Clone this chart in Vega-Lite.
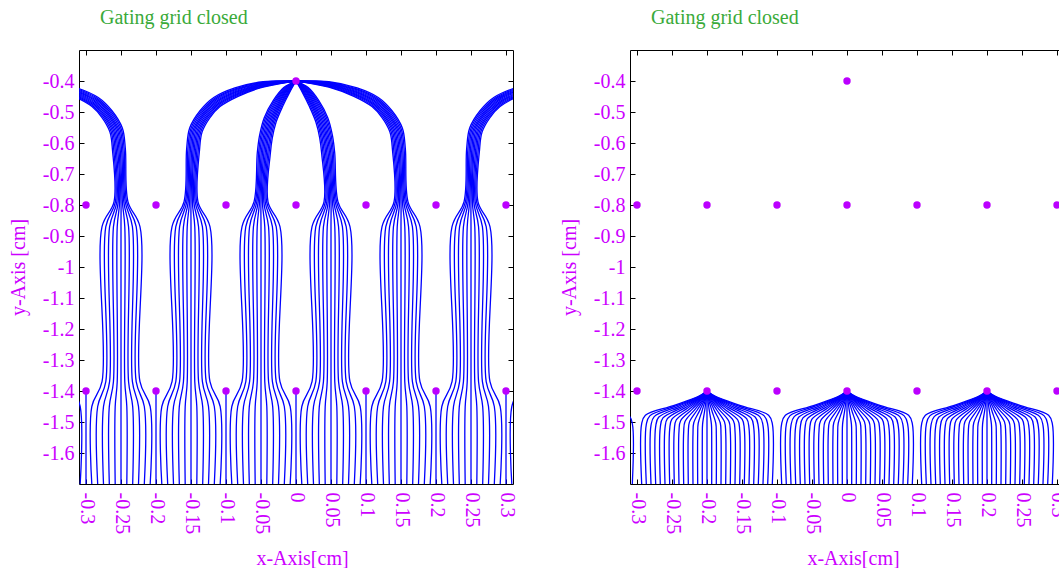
{
"$schema":"https://vega.github.io/schema/vega-lite/v6.json",
"padding":{"left":8,"top":7,"right":0,"bottom":0},
"background":"white",
"bounds":"flush",
"spacing":117,
"config":{
 "view":{"stroke":null},
 "axis":{"labelFont":"Liberation Serif","titleFont":"Liberation Serif","labelFontSize":20,"titleFontSize":20,"labelColor":"#cc00ff","titleColor":"#cc00ff","titleFontWeight":"normal","grid":false,"domainColor":"#000000","tickColor":"#000000","tickSize":-5,"labelOverlap":false,"labelFlush":false,"labelBound":false},
 "title":{"font":"Liberation Serif","fontSize":20,"fontWeight":"normal","color":"#3aaa3a","anchor":"start","frame":"group","baseline":"alphabetic","offset":22,"dx":21}
},
"datasets":{
"w":[{"x":0,"y":-0.4},{"x":-0.3,"y":-0.8},{"x":-0.2,"y":-0.8},{"x":-0.1,"y":-0.8},{"x":0,"y":-0.8},{"x":0.1,"y":-0.8},{"x":0.2,"y":-0.8},{"x":0.3,"y":-0.8},{"x":-0.3,"y":-1.4},{"x":-0.2,"y":-1.4},{"x":-0.1,"y":-1.4},{"x":0,"y":-1.4},{"x":0.1,"y":-1.4},{"x":0.2,"y":-1.4},{"x":0.3,"y":-1.4}],
"a":[
{"l":1,"x":-0.2917,"y":-1.7},{"l":1,"x":-0.2917,"y":-1.45},{"l":1,"x":-0.2771,"y":-1.37},{"l":1,"x":-0.2771,"y":-0.87},{"l":1,"x":-0.26,"y":-0.79},{"l":1,"x":-0.2622,"y":-0.6223},{"l":1,"x":-0.2659,"y":-0.5642},{"l":1,"x":-0.2771,"y":-0.518},{"l":1,"x":-0.2915,"y":-0.4826},{"l":1,"x":-0.3173,"y":-0.4496},{"l":1,"x":-0.353,"y":-0.4196},{"l":1,"x":-0.4,"y":-0.4},
{"l":2,"x":-0.2833,"y":-1.7},{"l":2,"x":-0.2833,"y":-1.45},{"l":2,"x":-0.2717,"y":-1.37},{"l":2,"x":-0.2717,"y":-0.87},{"l":2,"x":-0.258,"y":-0.79},{"l":2,"x":-0.2604,"y":-0.6218},{"l":2,"x":-0.2641,"y":-0.563},{"l":2,"x":-0.2756,"y":-0.5158},{"l":2,"x":-0.2906,"y":-0.4796},{"l":2,"x":-0.3168,"y":-0.4468},{"l":2,"x":-0.353,"y":-0.4178},{"l":2,"x":-0.4,"y":-0.4},
{"l":3,"x":-0.275,"y":-1.7},{"l":3,"x":-0.275,"y":-1.45},{"l":3,"x":-0.2663,"y":-1.37},{"l":3,"x":-0.2663,"y":-0.87},{"l":3,"x":-0.256,"y":-0.79},{"l":3,"x":-0.2585,"y":-0.6214},{"l":3,"x":-0.2623,"y":-0.5617},{"l":3,"x":-0.2742,"y":-0.5136},{"l":3,"x":-0.2897,"y":-0.4767},{"l":3,"x":-0.3164,"y":-0.4441},{"l":3,"x":-0.353,"y":-0.4161},{"l":3,"x":-0.4,"y":-0.4},
{"l":4,"x":-0.2667,"y":-1.7},{"l":4,"x":-0.2667,"y":-1.45},{"l":4,"x":-0.2608,"y":-1.37},{"l":4,"x":-0.2608,"y":-0.87},{"l":4,"x":-0.254,"y":-0.79},{"l":4,"x":-0.2567,"y":-0.6209},{"l":4,"x":-0.2605,"y":-0.5605},{"l":4,"x":-0.2728,"y":-0.5114},{"l":4,"x":-0.2888,"y":-0.4738},{"l":4,"x":-0.3159,"y":-0.4414},{"l":4,"x":-0.353,"y":-0.4144},{"l":4,"x":-0.4,"y":-0.4},
{"l":5,"x":-0.2583,"y":-1.7},{"l":5,"x":-0.2583,"y":-1.45},{"l":5,"x":-0.2554,"y":-1.37},{"l":5,"x":-0.2554,"y":-0.87},{"l":5,"x":-0.252,"y":-0.79},{"l":5,"x":-0.2548,"y":-0.6205},{"l":5,"x":-0.2588,"y":-0.5592},{"l":5,"x":-0.2714,"y":-0.5092},{"l":5,"x":-0.2879,"y":-0.4709},{"l":5,"x":-0.3155,"y":-0.4387},{"l":5,"x":-0.353,"y":-0.4127},{"l":5,"x":-0.4,"y":-0.4},
{"l":6,"x":-0.25,"y":-1.7},{"l":6,"x":-0.25,"y":-0.87},{"l":6,"x":-0.25,"y":-0.79},{"l":6,"x":-0.253,"y":-0.62},{"l":6,"x":-0.257,"y":-0.558},{"l":6,"x":-0.27,"y":-0.507},{"l":6,"x":-0.287,"y":-0.468},{"l":6,"x":-0.315,"y":-0.436},{"l":6,"x":-0.353,"y":-0.411},{"l":6,"x":-0.4,"y":-0.4},
{"l":7,"x":-0.2417,"y":-1.7},{"l":7,"x":-0.2417,"y":-1.45},{"l":7,"x":-0.2446,"y":-1.37},{"l":7,"x":-0.2446,"y":-0.87},{"l":7,"x":-0.248,"y":-0.79},{"l":7,"x":-0.2512,"y":-0.6195},{"l":7,"x":-0.2552,"y":-0.5568},{"l":7,"x":-0.2686,"y":-0.5048},{"l":7,"x":-0.2861,"y":-0.4651},{"l":7,"x":-0.3145,"y":-0.4333},{"l":7,"x":-0.353,"y":-0.4093},{"l":7,"x":-0.4,"y":-0.4},
{"l":8,"x":-0.2333,"y":-1.7},{"l":8,"x":-0.2333,"y":-1.45},{"l":8,"x":-0.2392,"y":-1.37},{"l":8,"x":-0.2392,"y":-0.87},{"l":8,"x":-0.246,"y":-0.79},{"l":8,"x":-0.2493,"y":-0.6191},{"l":8,"x":-0.2535,"y":-0.5555},{"l":8,"x":-0.2672,"y":-0.5026},{"l":8,"x":-0.2852,"y":-0.4622},{"l":8,"x":-0.3141,"y":-0.4306},{"l":8,"x":-0.353,"y":-0.4076},{"l":8,"x":-0.4,"y":-0.4},
{"l":9,"x":-0.225,"y":-1.7},{"l":9,"x":-0.225,"y":-1.45},{"l":9,"x":-0.2337,"y":-1.37},{"l":9,"x":-0.2337,"y":-0.87},{"l":9,"x":-0.244,"y":-0.79},{"l":9,"x":-0.2475,"y":-0.6186},{"l":9,"x":-0.2517,"y":-0.5543},{"l":9,"x":-0.2658,"y":-0.5004},{"l":9,"x":-0.2843,"y":-0.4593},{"l":9,"x":-0.3136,"y":-0.4279},{"l":9,"x":-0.353,"y":-0.4059},{"l":9,"x":-0.4,"y":-0.4},
{"l":10,"x":-0.2167,"y":-1.7},{"l":10,"x":-0.2167,"y":-1.45},{"l":10,"x":-0.2283,"y":-1.37},{"l":10,"x":-0.2283,"y":-0.87},{"l":10,"x":-0.242,"y":-0.79},{"l":10,"x":-0.2456,"y":-0.6182},{"l":10,"x":-0.2499,"y":-0.553},{"l":10,"x":-0.2644,"y":-0.4982},{"l":10,"x":-0.2834,"y":-0.4564},{"l":10,"x":-0.3132,"y":-0.4252},{"l":10,"x":-0.353,"y":-0.4042},{"l":10,"x":-0.4,"y":-0.4},
{"l":11,"x":-0.2083,"y":-1.7},{"l":11,"x":-0.2083,"y":-1.45},{"l":11,"x":-0.2229,"y":-1.37},{"l":11,"x":-0.2229,"y":-0.87},{"l":11,"x":-0.24,"y":-0.79},{"l":11,"x":-0.2438,"y":-0.6177},{"l":11,"x":-0.2481,"y":-0.5518},{"l":11,"x":-0.2629,"y":-0.496},{"l":11,"x":-0.2825,"y":-0.4534},{"l":11,"x":-0.3127,"y":-0.4224},{"l":11,"x":-0.353,"y":-0.4024},{"l":11,"x":-0.4,"y":-0.4},
{"l":12,"x":-0.1917,"y":-1.7},{"l":12,"x":-0.1917,"y":-1.45},{"l":12,"x":-0.1771,"y":-1.37},{"l":12,"x":-0.1771,"y":-0.87},{"l":12,"x":-0.16,"y":-0.79},{"l":12,"x":-0.1562,"y":-0.6177},{"l":12,"x":-0.1519,"y":-0.5518},{"l":12,"x":-0.1371,"y":-0.496},{"l":12,"x":-0.1175,"y":-0.4534},{"l":12,"x":-0.0873,"y":-0.4224},{"l":12,"x":-0.047,"y":-0.4024},{"l":12,"x":0,"y":-0.4},
{"l":13,"x":-0.1833,"y":-1.7},{"l":13,"x":-0.1833,"y":-1.45},{"l":13,"x":-0.1717,"y":-1.37},{"l":13,"x":-0.1717,"y":-0.87},{"l":13,"x":-0.158,"y":-0.79},{"l":13,"x":-0.1544,"y":-0.6182},{"l":13,"x":-0.1501,"y":-0.553},{"l":13,"x":-0.1356,"y":-0.4982},{"l":13,"x":-0.1166,"y":-0.4564},{"l":13,"x":-0.0868,"y":-0.4252},{"l":13,"x":-0.047,"y":-0.4042},{"l":13,"x":0,"y":-0.4},
{"l":14,"x":-0.175,"y":-1.7},{"l":14,"x":-0.175,"y":-1.45},{"l":14,"x":-0.1663,"y":-1.37},{"l":14,"x":-0.1663,"y":-0.87},{"l":14,"x":-0.156,"y":-0.79},{"l":14,"x":-0.1525,"y":-0.6186},{"l":14,"x":-0.1483,"y":-0.5543},{"l":14,"x":-0.1342,"y":-0.5004},{"l":14,"x":-0.1157,"y":-0.4593},{"l":14,"x":-0.0864,"y":-0.4279},{"l":14,"x":-0.047,"y":-0.4059},{"l":14,"x":0,"y":-0.4},
{"l":15,"x":-0.1667,"y":-1.7},{"l":15,"x":-0.1667,"y":-1.45},{"l":15,"x":-0.1608,"y":-1.37},{"l":15,"x":-0.1608,"y":-0.87},{"l":15,"x":-0.154,"y":-0.79},{"l":15,"x":-0.1507,"y":-0.6191},{"l":15,"x":-0.1465,"y":-0.5555},{"l":15,"x":-0.1328,"y":-0.5026},{"l":15,"x":-0.1148,"y":-0.4622},{"l":15,"x":-0.0859,"y":-0.4306},{"l":15,"x":-0.047,"y":-0.4076},{"l":15,"x":0,"y":-0.4},
{"l":16,"x":-0.1583,"y":-1.7},{"l":16,"x":-0.1583,"y":-1.45},{"l":16,"x":-0.1554,"y":-1.37},{"l":16,"x":-0.1554,"y":-0.87},{"l":16,"x":-0.152,"y":-0.79},{"l":16,"x":-0.1488,"y":-0.6195},{"l":16,"x":-0.1448,"y":-0.5568},{"l":16,"x":-0.1314,"y":-0.5048},{"l":16,"x":-0.1139,"y":-0.4651},{"l":16,"x":-0.0855,"y":-0.4333},{"l":16,"x":-0.047,"y":-0.4093},{"l":16,"x":0,"y":-0.4},
{"l":17,"x":-0.15,"y":-1.7},{"l":17,"x":-0.15,"y":-0.87},{"l":17,"x":-0.15,"y":-0.79},{"l":17,"x":-0.147,"y":-0.62},{"l":17,"x":-0.143,"y":-0.558},{"l":17,"x":-0.13,"y":-0.507},{"l":17,"x":-0.113,"y":-0.468},{"l":17,"x":-0.085,"y":-0.436},{"l":17,"x":-0.047,"y":-0.411},{"l":17,"x":0,"y":-0.4},
{"l":18,"x":-0.1417,"y":-1.7},{"l":18,"x":-0.1417,"y":-1.45},{"l":18,"x":-0.1446,"y":-1.37},{"l":18,"x":-0.1446,"y":-0.87},{"l":18,"x":-0.148,"y":-0.79},{"l":18,"x":-0.1452,"y":-0.6205},{"l":18,"x":-0.1412,"y":-0.5592},{"l":18,"x":-0.1286,"y":-0.5092},{"l":18,"x":-0.1121,"y":-0.4709},{"l":18,"x":-0.0845,"y":-0.4387},{"l":18,"x":-0.047,"y":-0.4127},{"l":18,"x":0,"y":-0.4},
{"l":19,"x":-0.1333,"y":-1.7},{"l":19,"x":-0.1333,"y":-1.45},{"l":19,"x":-0.1392,"y":-1.37},{"l":19,"x":-0.1392,"y":-0.87},{"l":19,"x":-0.146,"y":-0.79},{"l":19,"x":-0.1433,"y":-0.6209},{"l":19,"x":-0.1395,"y":-0.5605},{"l":19,"x":-0.1272,"y":-0.5114},{"l":19,"x":-0.1112,"y":-0.4738},{"l":19,"x":-0.0841,"y":-0.4414},{"l":19,"x":-0.047,"y":-0.4144},{"l":19,"x":0,"y":-0.4},
{"l":20,"x":-0.125,"y":-1.7},{"l":20,"x":-0.125,"y":-1.45},{"l":20,"x":-0.1337,"y":-1.37},{"l":20,"x":-0.1337,"y":-0.87},{"l":20,"x":-0.144,"y":-0.79},{"l":20,"x":-0.1415,"y":-0.6214},{"l":20,"x":-0.1377,"y":-0.5617},{"l":20,"x":-0.1258,"y":-0.5136},{"l":20,"x":-0.1103,"y":-0.4767},{"l":20,"x":-0.0836,"y":-0.4441},{"l":20,"x":-0.047,"y":-0.4161},{"l":20,"x":0,"y":-0.4},
{"l":21,"x":-0.1167,"y":-1.7},{"l":21,"x":-0.1167,"y":-1.45},{"l":21,"x":-0.1283,"y":-1.37},{"l":21,"x":-0.1283,"y":-0.87},{"l":21,"x":-0.142,"y":-0.79},{"l":21,"x":-0.1396,"y":-0.6218},{"l":21,"x":-0.1359,"y":-0.563},{"l":21,"x":-0.1244,"y":-0.5158},{"l":21,"x":-0.1094,"y":-0.4796},{"l":21,"x":-0.0832,"y":-0.4468},{"l":21,"x":-0.047,"y":-0.4178},{"l":21,"x":0,"y":-0.4},
{"l":22,"x":-0.1083,"y":-1.7},{"l":22,"x":-0.1083,"y":-1.45},{"l":22,"x":-0.1229,"y":-1.37},{"l":22,"x":-0.1229,"y":-0.87},{"l":22,"x":-0.14,"y":-0.79},{"l":22,"x":-0.1378,"y":-0.6223},{"l":22,"x":-0.1341,"y":-0.5642},{"l":22,"x":-0.1229,"y":-0.518},{"l":22,"x":-0.1085,"y":-0.4826},{"l":22,"x":-0.0827,"y":-0.4496},{"l":22,"x":-0.047,"y":-0.4196},{"l":22,"x":0,"y":-0.4},
{"l":23,"x":-0.0917,"y":-1.7},{"l":23,"x":-0.0917,"y":-1.45},{"l":23,"x":-0.0771,"y":-1.37},{"l":23,"x":-0.0771,"y":-0.87},{"l":23,"x":-0.06,"y":-0.79},{"l":23,"x":-0.0553,"y":-0.6314},{"l":23,"x":-0.0521,"y":-0.5761},{"l":23,"x":-0.0455,"y":-0.5191},{"l":23,"x":-0.0326,"y":-0.4635},{"l":23,"x":-0.0175,"y":-0.4213},{"l":23,"x":0,"y":-0.4},
{"l":24,"x":-0.0833,"y":-1.7},{"l":24,"x":-0.0833,"y":-1.45},{"l":24,"x":-0.0717,"y":-1.37},{"l":24,"x":-0.0717,"y":-0.87},{"l":24,"x":-0.058,"y":-0.79},{"l":24,"x":-0.0534,"y":-0.6318},{"l":24,"x":-0.0503,"y":-0.5769},{"l":24,"x":-0.0438,"y":-0.5205},{"l":24,"x":-0.0312,"y":-0.4652},{"l":24,"x":-0.0167,"y":-0.4228},{"l":24,"x":0,"y":-0.4},
{"l":25,"x":-0.075,"y":-1.7},{"l":25,"x":-0.075,"y":-1.45},{"l":25,"x":-0.0663,"y":-1.37},{"l":25,"x":-0.0663,"y":-0.87},{"l":25,"x":-0.056,"y":-0.79},{"l":25,"x":-0.0516,"y":-0.6321},{"l":25,"x":-0.0485,"y":-0.5777},{"l":25,"x":-0.0421,"y":-0.5219},{"l":25,"x":-0.0298,"y":-0.4669},{"l":25,"x":-0.0158,"y":-0.4244},{"l":25,"x":0,"y":-0.4},
{"l":26,"x":-0.0667,"y":-1.7},{"l":26,"x":-0.0667,"y":-1.45},{"l":26,"x":-0.0608,"y":-1.37},{"l":26,"x":-0.0608,"y":-0.87},{"l":26,"x":-0.054,"y":-0.79},{"l":26,"x":-0.0497,"y":-0.6324},{"l":26,"x":-0.0466,"y":-0.5784},{"l":26,"x":-0.0404,"y":-0.5232},{"l":26,"x":-0.0285,"y":-0.4686},{"l":26,"x":-0.015,"y":-0.4259},{"l":26,"x":0,"y":-0.4},
{"l":27,"x":-0.0583,"y":-1.7},{"l":27,"x":-0.0583,"y":-1.45},{"l":27,"x":-0.0554,"y":-1.37},{"l":27,"x":-0.0554,"y":-0.87},{"l":27,"x":-0.052,"y":-0.79},{"l":27,"x":-0.0479,"y":-0.6327},{"l":27,"x":-0.0448,"y":-0.5792},{"l":27,"x":-0.0387,"y":-0.5246},{"l":27,"x":-0.0271,"y":-0.4703},{"l":27,"x":-0.0141,"y":-0.4275},{"l":27,"x":0,"y":-0.4},
{"l":28,"x":-0.05,"y":-1.7},{"l":28,"x":-0.05,"y":-0.87},{"l":28,"x":-0.05,"y":-0.79},{"l":28,"x":-0.046,"y":-0.633},{"l":28,"x":-0.043,"y":-0.58},{"l":28,"x":-0.037,"y":-0.526},{"l":28,"x":-0.0257,"y":-0.472},{"l":28,"x":-0.0133,"y":-0.429},{"l":28,"x":0,"y":-0.4},
{"l":29,"x":-0.0417,"y":-1.7},{"l":29,"x":-0.0417,"y":-1.45},{"l":29,"x":-0.0446,"y":-1.37},{"l":29,"x":-0.0446,"y":-0.87},{"l":29,"x":-0.048,"y":-0.79},{"l":29,"x":-0.0441,"y":-0.6333},{"l":29,"x":-0.0412,"y":-0.5808},{"l":29,"x":-0.0353,"y":-0.5274},{"l":29,"x":-0.0243,"y":-0.4737},{"l":29,"x":-0.0125,"y":-0.4305},{"l":29,"x":0,"y":-0.4},
{"l":30,"x":-0.0333,"y":-1.7},{"l":30,"x":-0.0333,"y":-1.45},{"l":30,"x":-0.0392,"y":-1.37},{"l":30,"x":-0.0392,"y":-0.87},{"l":30,"x":-0.046,"y":-0.79},{"l":30,"x":-0.0423,"y":-0.6336},{"l":30,"x":-0.0394,"y":-0.5816},{"l":30,"x":-0.0336,"y":-0.5288},{"l":30,"x":-0.0229,"y":-0.4754},{"l":30,"x":-0.0116,"y":-0.4321},{"l":30,"x":0,"y":-0.4},
{"l":31,"x":-0.025,"y":-1.7},{"l":31,"x":-0.025,"y":-1.45},{"l":31,"x":-0.0337,"y":-1.37},{"l":31,"x":-0.0337,"y":-0.87},{"l":31,"x":-0.044,"y":-0.79},{"l":31,"x":-0.0404,"y":-0.6339},{"l":31,"x":-0.0375,"y":-0.5823},{"l":31,"x":-0.0319,"y":-0.5301},{"l":31,"x":-0.0216,"y":-0.4771},{"l":31,"x":-0.0108,"y":-0.4336},{"l":31,"x":0,"y":-0.4},
{"l":32,"x":-0.0167,"y":-1.7},{"l":32,"x":-0.0167,"y":-1.45},{"l":32,"x":-0.0283,"y":-1.37},{"l":32,"x":-0.0283,"y":-0.87},{"l":32,"x":-0.042,"y":-0.79},{"l":32,"x":-0.0386,"y":-0.6342},{"l":32,"x":-0.0357,"y":-0.5831},{"l":32,"x":-0.0302,"y":-0.5315},{"l":32,"x":-0.0202,"y":-0.4788},{"l":32,"x":-0.0099,"y":-0.4352},{"l":32,"x":0,"y":-0.4},
{"l":33,"x":-0.0083,"y":-1.7},{"l":33,"x":-0.0083,"y":-1.45},{"l":33,"x":-0.0229,"y":-1.37},{"l":33,"x":-0.0229,"y":-0.87},{"l":33,"x":-0.04,"y":-0.79},{"l":33,"x":-0.0367,"y":-0.6346},{"l":33,"x":-0.0339,"y":-0.5839},{"l":33,"x":-0.0285,"y":-0.5329},{"l":33,"x":-0.0188,"y":-0.4806},{"l":33,"x":-0.0091,"y":-0.4367},{"l":33,"x":0,"y":-0.4},
{"l":34,"x":0.0083,"y":-1.7},{"l":34,"x":0.0083,"y":-1.45},{"l":34,"x":0.0229,"y":-1.37},{"l":34,"x":0.0229,"y":-0.87},{"l":34,"x":0.04,"y":-0.79},{"l":34,"x":0.0367,"y":-0.6346},{"l":34,"x":0.0339,"y":-0.5839},{"l":34,"x":0.0285,"y":-0.5329},{"l":34,"x":0.0188,"y":-0.4806},{"l":34,"x":0.0091,"y":-0.4367},{"l":34,"x":0,"y":-0.4},
{"l":35,"x":0.0167,"y":-1.7},{"l":35,"x":0.0167,"y":-1.45},{"l":35,"x":0.0283,"y":-1.37},{"l":35,"x":0.0283,"y":-0.87},{"l":35,"x":0.042,"y":-0.79},{"l":35,"x":0.0386,"y":-0.6342},{"l":35,"x":0.0357,"y":-0.5831},{"l":35,"x":0.0302,"y":-0.5315},{"l":35,"x":0.0202,"y":-0.4788},{"l":35,"x":0.0099,"y":-0.4352},{"l":35,"x":0,"y":-0.4},
{"l":36,"x":0.025,"y":-1.7},{"l":36,"x":0.025,"y":-1.45},{"l":36,"x":0.0337,"y":-1.37},{"l":36,"x":0.0337,"y":-0.87},{"l":36,"x":0.044,"y":-0.79},{"l":36,"x":0.0404,"y":-0.6339},{"l":36,"x":0.0375,"y":-0.5823},{"l":36,"x":0.0319,"y":-0.5301},{"l":36,"x":0.0216,"y":-0.4771},{"l":36,"x":0.0108,"y":-0.4336},{"l":36,"x":0,"y":-0.4},
{"l":37,"x":0.0333,"y":-1.7},{"l":37,"x":0.0333,"y":-1.45},{"l":37,"x":0.0392,"y":-1.37},{"l":37,"x":0.0392,"y":-0.87},{"l":37,"x":0.046,"y":-0.79},{"l":37,"x":0.0423,"y":-0.6336},{"l":37,"x":0.0394,"y":-0.5816},{"l":37,"x":0.0336,"y":-0.5288},{"l":37,"x":0.0229,"y":-0.4754},{"l":37,"x":0.0116,"y":-0.4321},{"l":37,"x":0,"y":-0.4},
{"l":38,"x":0.0417,"y":-1.7},{"l":38,"x":0.0417,"y":-1.45},{"l":38,"x":0.0446,"y":-1.37},{"l":38,"x":0.0446,"y":-0.87},{"l":38,"x":0.048,"y":-0.79},{"l":38,"x":0.0441,"y":-0.6333},{"l":38,"x":0.0412,"y":-0.5808},{"l":38,"x":0.0353,"y":-0.5274},{"l":38,"x":0.0243,"y":-0.4737},{"l":38,"x":0.0125,"y":-0.4305},{"l":38,"x":0,"y":-0.4},
{"l":39,"x":0.05,"y":-1.7},{"l":39,"x":0.05,"y":-0.87},{"l":39,"x":0.05,"y":-0.79},{"l":39,"x":0.046,"y":-0.633},{"l":39,"x":0.043,"y":-0.58},{"l":39,"x":0.037,"y":-0.526},{"l":39,"x":0.0257,"y":-0.472},{"l":39,"x":0.0133,"y":-0.429},{"l":39,"x":0,"y":-0.4},
{"l":40,"x":0.0583,"y":-1.7},{"l":40,"x":0.0583,"y":-1.45},{"l":40,"x":0.0554,"y":-1.37},{"l":40,"x":0.0554,"y":-0.87},{"l":40,"x":0.052,"y":-0.79},{"l":40,"x":0.0479,"y":-0.6327},{"l":40,"x":0.0448,"y":-0.5792},{"l":40,"x":0.0387,"y":-0.5246},{"l":40,"x":0.0271,"y":-0.4703},{"l":40,"x":0.0141,"y":-0.4275},{"l":40,"x":0,"y":-0.4},
{"l":41,"x":0.0667,"y":-1.7},{"l":41,"x":0.0667,"y":-1.45},{"l":41,"x":0.0608,"y":-1.37},{"l":41,"x":0.0608,"y":-0.87},{"l":41,"x":0.054,"y":-0.79},{"l":41,"x":0.0497,"y":-0.6324},{"l":41,"x":0.0466,"y":-0.5784},{"l":41,"x":0.0404,"y":-0.5232},{"l":41,"x":0.0285,"y":-0.4686},{"l":41,"x":0.015,"y":-0.4259},{"l":41,"x":0,"y":-0.4},
{"l":42,"x":0.075,"y":-1.7},{"l":42,"x":0.075,"y":-1.45},{"l":42,"x":0.0663,"y":-1.37},{"l":42,"x":0.0663,"y":-0.87},{"l":42,"x":0.056,"y":-0.79},{"l":42,"x":0.0516,"y":-0.6321},{"l":42,"x":0.0485,"y":-0.5777},{"l":42,"x":0.0421,"y":-0.5219},{"l":42,"x":0.0298,"y":-0.4669},{"l":42,"x":0.0158,"y":-0.4244},{"l":42,"x":0,"y":-0.4},
{"l":43,"x":0.0833,"y":-1.7},{"l":43,"x":0.0833,"y":-1.45},{"l":43,"x":0.0717,"y":-1.37},{"l":43,"x":0.0717,"y":-0.87},{"l":43,"x":0.058,"y":-0.79},{"l":43,"x":0.0534,"y":-0.6318},{"l":43,"x":0.0503,"y":-0.5769},{"l":43,"x":0.0438,"y":-0.5205},{"l":43,"x":0.0312,"y":-0.4652},{"l":43,"x":0.0167,"y":-0.4228},{"l":43,"x":0,"y":-0.4},
{"l":44,"x":0.0917,"y":-1.7},{"l":44,"x":0.0917,"y":-1.45},{"l":44,"x":0.0771,"y":-1.37},{"l":44,"x":0.0771,"y":-0.87},{"l":44,"x":0.06,"y":-0.79},{"l":44,"x":0.0553,"y":-0.6314},{"l":44,"x":0.0521,"y":-0.5761},{"l":44,"x":0.0455,"y":-0.5191},{"l":44,"x":0.0326,"y":-0.4635},{"l":44,"x":0.0175,"y":-0.4213},{"l":44,"x":0,"y":-0.4},
{"l":45,"x":0.1083,"y":-1.7},{"l":45,"x":0.1083,"y":-1.45},{"l":45,"x":0.1229,"y":-1.37},{"l":45,"x":0.1229,"y":-0.87},{"l":45,"x":0.14,"y":-0.79},{"l":45,"x":0.1378,"y":-0.6223},{"l":45,"x":0.1341,"y":-0.5642},{"l":45,"x":0.1229,"y":-0.518},{"l":45,"x":0.1085,"y":-0.4826},{"l":45,"x":0.0827,"y":-0.4496},{"l":45,"x":0.047,"y":-0.4196},{"l":45,"x":0,"y":-0.4},
{"l":46,"x":0.1167,"y":-1.7},{"l":46,"x":0.1167,"y":-1.45},{"l":46,"x":0.1283,"y":-1.37},{"l":46,"x":0.1283,"y":-0.87},{"l":46,"x":0.142,"y":-0.79},{"l":46,"x":0.1396,"y":-0.6218},{"l":46,"x":0.1359,"y":-0.563},{"l":46,"x":0.1244,"y":-0.5158},{"l":46,"x":0.1094,"y":-0.4796},{"l":46,"x":0.0832,"y":-0.4468},{"l":46,"x":0.047,"y":-0.4178},{"l":46,"x":0,"y":-0.4},
{"l":47,"x":0.125,"y":-1.7},{"l":47,"x":0.125,"y":-1.45},{"l":47,"x":0.1337,"y":-1.37},{"l":47,"x":0.1337,"y":-0.87},{"l":47,"x":0.144,"y":-0.79},{"l":47,"x":0.1415,"y":-0.6214},{"l":47,"x":0.1377,"y":-0.5617},{"l":47,"x":0.1258,"y":-0.5136},{"l":47,"x":0.1103,"y":-0.4767},{"l":47,"x":0.0836,"y":-0.4441},{"l":47,"x":0.047,"y":-0.4161},{"l":47,"x":0,"y":-0.4},
{"l":48,"x":0.1333,"y":-1.7},{"l":48,"x":0.1333,"y":-1.45},{"l":48,"x":0.1392,"y":-1.37},{"l":48,"x":0.1392,"y":-0.87},{"l":48,"x":0.146,"y":-0.79},{"l":48,"x":0.1433,"y":-0.6209},{"l":48,"x":0.1395,"y":-0.5605},{"l":48,"x":0.1272,"y":-0.5114},{"l":48,"x":0.1112,"y":-0.4738},{"l":48,"x":0.0841,"y":-0.4414},{"l":48,"x":0.047,"y":-0.4144},{"l":48,"x":0,"y":-0.4},
{"l":49,"x":0.1417,"y":-1.7},{"l":49,"x":0.1417,"y":-1.45},{"l":49,"x":0.1446,"y":-1.37},{"l":49,"x":0.1446,"y":-0.87},{"l":49,"x":0.148,"y":-0.79},{"l":49,"x":0.1452,"y":-0.6205},{"l":49,"x":0.1412,"y":-0.5592},{"l":49,"x":0.1286,"y":-0.5092},{"l":49,"x":0.1121,"y":-0.4709},{"l":49,"x":0.0845,"y":-0.4387},{"l":49,"x":0.047,"y":-0.4127},{"l":49,"x":0,"y":-0.4},
{"l":50,"x":0.15,"y":-1.7},{"l":50,"x":0.15,"y":-0.87},{"l":50,"x":0.15,"y":-0.79},{"l":50,"x":0.147,"y":-0.62},{"l":50,"x":0.143,"y":-0.558},{"l":50,"x":0.13,"y":-0.507},{"l":50,"x":0.113,"y":-0.468},{"l":50,"x":0.085,"y":-0.436},{"l":50,"x":0.047,"y":-0.411},{"l":50,"x":0,"y":-0.4},
{"l":51,"x":0.1583,"y":-1.7},{"l":51,"x":0.1583,"y":-1.45},{"l":51,"x":0.1554,"y":-1.37},{"l":51,"x":0.1554,"y":-0.87},{"l":51,"x":0.152,"y":-0.79},{"l":51,"x":0.1488,"y":-0.6195},{"l":51,"x":0.1448,"y":-0.5568},{"l":51,"x":0.1314,"y":-0.5048},{"l":51,"x":0.1139,"y":-0.4651},{"l":51,"x":0.0855,"y":-0.4333},{"l":51,"x":0.047,"y":-0.4093},{"l":51,"x":0,"y":-0.4},
{"l":52,"x":0.1667,"y":-1.7},{"l":52,"x":0.1667,"y":-1.45},{"l":52,"x":0.1608,"y":-1.37},{"l":52,"x":0.1608,"y":-0.87},{"l":52,"x":0.154,"y":-0.79},{"l":52,"x":0.1507,"y":-0.6191},{"l":52,"x":0.1465,"y":-0.5555},{"l":52,"x":0.1328,"y":-0.5026},{"l":52,"x":0.1148,"y":-0.4622},{"l":52,"x":0.0859,"y":-0.4306},{"l":52,"x":0.047,"y":-0.4076},{"l":52,"x":0,"y":-0.4},
{"l":53,"x":0.175,"y":-1.7},{"l":53,"x":0.175,"y":-1.45},{"l":53,"x":0.1663,"y":-1.37},{"l":53,"x":0.1663,"y":-0.87},{"l":53,"x":0.156,"y":-0.79},{"l":53,"x":0.1525,"y":-0.6186},{"l":53,"x":0.1483,"y":-0.5543},{"l":53,"x":0.1342,"y":-0.5004},{"l":53,"x":0.1157,"y":-0.4593},{"l":53,"x":0.0864,"y":-0.4279},{"l":53,"x":0.047,"y":-0.4059},{"l":53,"x":0,"y":-0.4},
{"l":54,"x":0.1833,"y":-1.7},{"l":54,"x":0.1833,"y":-1.45},{"l":54,"x":0.1717,"y":-1.37},{"l":54,"x":0.1717,"y":-0.87},{"l":54,"x":0.158,"y":-0.79},{"l":54,"x":0.1544,"y":-0.6182},{"l":54,"x":0.1501,"y":-0.553},{"l":54,"x":0.1356,"y":-0.4982},{"l":54,"x":0.1166,"y":-0.4564},{"l":54,"x":0.0868,"y":-0.4252},{"l":54,"x":0.047,"y":-0.4042},{"l":54,"x":0,"y":-0.4},
{"l":55,"x":0.1917,"y":-1.7},{"l":55,"x":0.1917,"y":-1.45},{"l":55,"x":0.1771,"y":-1.37},{"l":55,"x":0.1771,"y":-0.87},{"l":55,"x":0.16,"y":-0.79},{"l":55,"x":0.1562,"y":-0.6177},{"l":55,"x":0.1519,"y":-0.5518},{"l":55,"x":0.1371,"y":-0.496},{"l":55,"x":0.1175,"y":-0.4534},{"l":55,"x":0.0873,"y":-0.4224},{"l":55,"x":0.047,"y":-0.4024},{"l":55,"x":0,"y":-0.4},
{"l":56,"x":0.2083,"y":-1.7},{"l":56,"x":0.2083,"y":-1.45},{"l":56,"x":0.2229,"y":-1.37},{"l":56,"x":0.2229,"y":-0.87},{"l":56,"x":0.24,"y":-0.79},{"l":56,"x":0.2438,"y":-0.6177},{"l":56,"x":0.2481,"y":-0.5518},{"l":56,"x":0.2629,"y":-0.496},{"l":56,"x":0.2825,"y":-0.4534},{"l":56,"x":0.3127,"y":-0.4224},{"l":56,"x":0.353,"y":-0.4024},{"l":56,"x":0.4,"y":-0.4},
{"l":57,"x":0.2167,"y":-1.7},{"l":57,"x":0.2167,"y":-1.45},{"l":57,"x":0.2283,"y":-1.37},{"l":57,"x":0.2283,"y":-0.87},{"l":57,"x":0.242,"y":-0.79},{"l":57,"x":0.2456,"y":-0.6182},{"l":57,"x":0.2499,"y":-0.553},{"l":57,"x":0.2644,"y":-0.4982},{"l":57,"x":0.2834,"y":-0.4564},{"l":57,"x":0.3132,"y":-0.4252},{"l":57,"x":0.353,"y":-0.4042},{"l":57,"x":0.4,"y":-0.4},
{"l":58,"x":0.225,"y":-1.7},{"l":58,"x":0.225,"y":-1.45},{"l":58,"x":0.2337,"y":-1.37},{"l":58,"x":0.2337,"y":-0.87},{"l":58,"x":0.244,"y":-0.79},{"l":58,"x":0.2475,"y":-0.6186},{"l":58,"x":0.2517,"y":-0.5543},{"l":58,"x":0.2658,"y":-0.5004},{"l":58,"x":0.2843,"y":-0.4593},{"l":58,"x":0.3136,"y":-0.4279},{"l":58,"x":0.353,"y":-0.4059},{"l":58,"x":0.4,"y":-0.4},
{"l":59,"x":0.2333,"y":-1.7},{"l":59,"x":0.2333,"y":-1.45},{"l":59,"x":0.2392,"y":-1.37},{"l":59,"x":0.2392,"y":-0.87},{"l":59,"x":0.246,"y":-0.79},{"l":59,"x":0.2493,"y":-0.6191},{"l":59,"x":0.2535,"y":-0.5555},{"l":59,"x":0.2672,"y":-0.5026},{"l":59,"x":0.2852,"y":-0.4622},{"l":59,"x":0.3141,"y":-0.4306},{"l":59,"x":0.353,"y":-0.4076},{"l":59,"x":0.4,"y":-0.4},
{"l":60,"x":0.2417,"y":-1.7},{"l":60,"x":0.2417,"y":-1.45},{"l":60,"x":0.2446,"y":-1.37},{"l":60,"x":0.2446,"y":-0.87},{"l":60,"x":0.248,"y":-0.79},{"l":60,"x":0.2512,"y":-0.6195},{"l":60,"x":0.2552,"y":-0.5568},{"l":60,"x":0.2686,"y":-0.5048},{"l":60,"x":0.2861,"y":-0.4651},{"l":60,"x":0.3145,"y":-0.4333},{"l":60,"x":0.353,"y":-0.4093},{"l":60,"x":0.4,"y":-0.4},
{"l":61,"x":0.25,"y":-1.7},{"l":61,"x":0.25,"y":-0.87},{"l":61,"x":0.25,"y":-0.79},{"l":61,"x":0.253,"y":-0.62},{"l":61,"x":0.257,"y":-0.558},{"l":61,"x":0.27,"y":-0.507},{"l":61,"x":0.287,"y":-0.468},{"l":61,"x":0.315,"y":-0.436},{"l":61,"x":0.353,"y":-0.411},{"l":61,"x":0.4,"y":-0.4},
{"l":62,"x":0.2583,"y":-1.7},{"l":62,"x":0.2583,"y":-1.45},{"l":62,"x":0.2554,"y":-1.37},{"l":62,"x":0.2554,"y":-0.87},{"l":62,"x":0.252,"y":-0.79},{"l":62,"x":0.2548,"y":-0.6205},{"l":62,"x":0.2588,"y":-0.5592},{"l":62,"x":0.2714,"y":-0.5092},{"l":62,"x":0.2879,"y":-0.4709},{"l":62,"x":0.3155,"y":-0.4387},{"l":62,"x":0.353,"y":-0.4127},{"l":62,"x":0.4,"y":-0.4},
{"l":63,"x":0.2667,"y":-1.7},{"l":63,"x":0.2667,"y":-1.45},{"l":63,"x":0.2608,"y":-1.37},{"l":63,"x":0.2608,"y":-0.87},{"l":63,"x":0.254,"y":-0.79},{"l":63,"x":0.2567,"y":-0.6209},{"l":63,"x":0.2605,"y":-0.5605},{"l":63,"x":0.2728,"y":-0.5114},{"l":63,"x":0.2888,"y":-0.4738},{"l":63,"x":0.3159,"y":-0.4414},{"l":63,"x":0.353,"y":-0.4144},{"l":63,"x":0.4,"y":-0.4},
{"l":64,"x":0.275,"y":-1.7},{"l":64,"x":0.275,"y":-1.45},{"l":64,"x":0.2663,"y":-1.37},{"l":64,"x":0.2663,"y":-0.87},{"l":64,"x":0.256,"y":-0.79},{"l":64,"x":0.2585,"y":-0.6214},{"l":64,"x":0.2623,"y":-0.5617},{"l":64,"x":0.2742,"y":-0.5136},{"l":64,"x":0.2897,"y":-0.4767},{"l":64,"x":0.3164,"y":-0.4441},{"l":64,"x":0.353,"y":-0.4161},{"l":64,"x":0.4,"y":-0.4},
{"l":65,"x":0.2833,"y":-1.7},{"l":65,"x":0.2833,"y":-1.45},{"l":65,"x":0.2717,"y":-1.37},{"l":65,"x":0.2717,"y":-0.87},{"l":65,"x":0.258,"y":-0.79},{"l":65,"x":0.2604,"y":-0.6218},{"l":65,"x":0.2641,"y":-0.563},{"l":65,"x":0.2756,"y":-0.5158},{"l":65,"x":0.2906,"y":-0.4796},{"l":65,"x":0.3168,"y":-0.4468},{"l":65,"x":0.353,"y":-0.4178},{"l":65,"x":0.4,"y":-0.4},
{"l":66,"x":0.2917,"y":-1.7},{"l":66,"x":0.2917,"y":-1.45},{"l":66,"x":0.2771,"y":-1.37},{"l":66,"x":0.2771,"y":-0.87},{"l":66,"x":0.26,"y":-0.79},{"l":66,"x":0.2622,"y":-0.6223},{"l":66,"x":0.2659,"y":-0.5642},{"l":66,"x":0.2771,"y":-0.518},{"l":66,"x":0.2915,"y":-0.4826},{"l":66,"x":0.3173,"y":-0.4496},{"l":66,"x":0.353,"y":-0.4196},{"l":66,"x":0.4,"y":-0.4},
{"l":67,"x":-0.3,"y":-1.7},{"l":67,"x":-0.3,"y":-1.4},
{"l":68,"x":-0.2,"y":-1.7},{"l":68,"x":-0.2,"y":-1.4},
{"l":69,"x":-0.1,"y":-1.7},{"l":69,"x":-0.1,"y":-1.4},
{"l":70,"x":0,"y":-1.7},{"l":70,"x":0,"y":-1.4},
{"l":71,"x":0.1,"y":-1.7},{"l":71,"x":0.1,"y":-1.4},
{"l":72,"x":0.2,"y":-1.7},{"l":72,"x":0.2,"y":-1.4},
{"l":73,"x":0.3,"y":-1.7},{"l":73,"x":0.3,"y":-1.4},
{"l":74,"x":-0.3083,"y":-1.7},{"l":74,"x":-0.3083,"y":-1.45},{"l":74,"x":-0.3229,"y":-1.37},{"l":74,"x":-0.3229,"y":-0.87},
{"l":75,"x":0.3083,"y":-1.7},{"l":75,"x":0.3083,"y":-1.45},{"l":75,"x":0.3229,"y":-1.37},{"l":75,"x":0.3229,"y":-0.87}
],
"b":[
{"l":100,"x":-0.2,"y":-1.7},{"l":100,"x":-0.2,"y":-1.4},
{"l":200,"x":0,"y":-1.7},{"l":200,"x":0,"y":-1.4},
{"l":300,"x":0.2,"y":-1.7},{"l":300,"x":0.2,"y":-1.4},
{"l":400,"x":-0.3067,"y":-1.7},{"l":400,"x":-0.3067,"y":-1.505},{"l":400,"x":-0.312,"y":-1.478},{"l":400,"x":-0.352,"y":-1.447},{"l":400,"x":-0.388,"y":-1.417},{"l":400,"x":-0.4,"y":-1.4},
{"l":101,"x":-0.2067,"y":-1.7},{"l":101,"x":-0.2067,"y":-1.544},{"l":101,"x":-0.2063,"y":-1.507},{"l":101,"x":-0.2034,"y":-1.4645},{"l":101,"x":-0.2009,"y":-1.4233},{"l":101,"x":-0.2,"y":-1.4},
{"l":102,"x":-0.2133,"y":-1.7},{"l":102,"x":-0.2133,"y":-1.541},{"l":102,"x":-0.2126,"y":-1.5047},{"l":102,"x":-0.2069,"y":-1.4631},{"l":102,"x":-0.2017,"y":-1.4228},{"l":102,"x":-0.2,"y":-1.4},
{"l":103,"x":-0.22,"y":-1.7},{"l":103,"x":-0.22,"y":-1.538},{"l":103,"x":-0.2189,"y":-1.5025},{"l":103,"x":-0.2103,"y":-1.4618},{"l":103,"x":-0.2026,"y":-1.4223},{"l":103,"x":-0.2,"y":-1.4},
{"l":104,"x":-0.2267,"y":-1.7},{"l":104,"x":-0.2267,"y":-1.535},{"l":104,"x":-0.2251,"y":-1.5003},{"l":104,"x":-0.2137,"y":-1.4604},{"l":104,"x":-0.2034,"y":-1.4219},{"l":104,"x":-0.2,"y":-1.4},
{"l":105,"x":-0.2333,"y":-1.7},{"l":105,"x":-0.2333,"y":-1.532},{"l":105,"x":-0.2314,"y":-1.4981},{"l":105,"x":-0.2171,"y":-1.4591},{"l":105,"x":-0.2043,"y":-1.4214},{"l":105,"x":-0.2,"y":-1.4},
{"l":106,"x":-0.24,"y":-1.7},{"l":106,"x":-0.24,"y":-1.529},{"l":106,"x":-0.2377,"y":-1.4958},{"l":106,"x":-0.2206,"y":-1.4577},{"l":106,"x":-0.2051,"y":-1.4209},{"l":106,"x":-0.2,"y":-1.4},
{"l":107,"x":-0.2467,"y":-1.7},{"l":107,"x":-0.2467,"y":-1.526},{"l":107,"x":-0.244,"y":-1.4936},{"l":107,"x":-0.224,"y":-1.4564},{"l":107,"x":-0.206,"y":-1.4204},{"l":107,"x":-0.2,"y":-1.4},
{"l":108,"x":-0.2533,"y":-1.7},{"l":108,"x":-0.2533,"y":-1.523},{"l":108,"x":-0.2503,"y":-1.4914},{"l":108,"x":-0.2274,"y":-1.4551},{"l":108,"x":-0.2069,"y":-1.4199},{"l":108,"x":-0.2,"y":-1.4},
{"l":109,"x":-0.26,"y":-1.7},{"l":109,"x":-0.26,"y":-1.52},{"l":109,"x":-0.2566,"y":-1.4891},{"l":109,"x":-0.2309,"y":-1.4537},{"l":109,"x":-0.2077,"y":-1.4194},{"l":109,"x":-0.2,"y":-1.4},
{"l":110,"x":-0.2667,"y":-1.7},{"l":110,"x":-0.2667,"y":-1.517},{"l":110,"x":-0.2629,"y":-1.4869},{"l":110,"x":-0.2343,"y":-1.4524},{"l":110,"x":-0.2086,"y":-1.4189},{"l":110,"x":-0.2,"y":-1.4},
{"l":111,"x":-0.2733,"y":-1.7},{"l":111,"x":-0.2733,"y":-1.514},{"l":111,"x":-0.2691,"y":-1.4847},{"l":111,"x":-0.2377,"y":-1.451},{"l":111,"x":-0.2094,"y":-1.4185},{"l":111,"x":-0.2,"y":-1.4},
{"l":112,"x":-0.28,"y":-1.7},{"l":112,"x":-0.28,"y":-1.511},{"l":112,"x":-0.2754,"y":-1.4825},{"l":112,"x":-0.2411,"y":-1.4497},{"l":112,"x":-0.2103,"y":-1.418},{"l":112,"x":-0.2,"y":-1.4},
{"l":113,"x":-0.2867,"y":-1.7},{"l":113,"x":-0.2867,"y":-1.508},{"l":113,"x":-0.2817,"y":-1.4802},{"l":113,"x":-0.2446,"y":-1.4483},{"l":113,"x":-0.2111,"y":-1.4175},{"l":113,"x":-0.2,"y":-1.4},
{"l":114,"x":-0.2933,"y":-1.7},{"l":114,"x":-0.2933,"y":-1.505},{"l":114,"x":-0.288,"y":-1.478},{"l":114,"x":-0.248,"y":-1.447},{"l":114,"x":-0.212,"y":-1.417},{"l":114,"x":-0.2,"y":-1.4},
{"l":121,"x":-0.1933,"y":-1.7},{"l":121,"x":-0.1933,"y":-1.544},{"l":121,"x":-0.1937,"y":-1.507},{"l":121,"x":-0.1966,"y":-1.4645},{"l":121,"x":-0.1991,"y":-1.4233},{"l":121,"x":-0.2,"y":-1.4},
{"l":122,"x":-0.1867,"y":-1.7},{"l":122,"x":-0.1867,"y":-1.541},{"l":122,"x":-0.1874,"y":-1.5047},{"l":122,"x":-0.1931,"y":-1.4631},{"l":122,"x":-0.1983,"y":-1.4228},{"l":122,"x":-0.2,"y":-1.4},
{"l":123,"x":-0.18,"y":-1.7},{"l":123,"x":-0.18,"y":-1.538},{"l":123,"x":-0.1811,"y":-1.5025},{"l":123,"x":-0.1897,"y":-1.4618},{"l":123,"x":-0.1974,"y":-1.4223},{"l":123,"x":-0.2,"y":-1.4},
{"l":124,"x":-0.1733,"y":-1.7},{"l":124,"x":-0.1733,"y":-1.535},{"l":124,"x":-0.1749,"y":-1.5003},{"l":124,"x":-0.1863,"y":-1.4604},{"l":124,"x":-0.1966,"y":-1.4219},{"l":124,"x":-0.2,"y":-1.4},
{"l":125,"x":-0.1667,"y":-1.7},{"l":125,"x":-0.1667,"y":-1.532},{"l":125,"x":-0.1686,"y":-1.4981},{"l":125,"x":-0.1829,"y":-1.4591},{"l":125,"x":-0.1957,"y":-1.4214},{"l":125,"x":-0.2,"y":-1.4},
{"l":126,"x":-0.16,"y":-1.7},{"l":126,"x":-0.16,"y":-1.529},{"l":126,"x":-0.1623,"y":-1.4958},{"l":126,"x":-0.1794,"y":-1.4577},{"l":126,"x":-0.1949,"y":-1.4209},{"l":126,"x":-0.2,"y":-1.4},
{"l":127,"x":-0.1533,"y":-1.7},{"l":127,"x":-0.1533,"y":-1.526},{"l":127,"x":-0.156,"y":-1.4936},{"l":127,"x":-0.176,"y":-1.4564},{"l":127,"x":-0.194,"y":-1.4204},{"l":127,"x":-0.2,"y":-1.4},
{"l":128,"x":-0.1467,"y":-1.7},{"l":128,"x":-0.1467,"y":-1.523},{"l":128,"x":-0.1497,"y":-1.4914},{"l":128,"x":-0.1726,"y":-1.4551},{"l":128,"x":-0.1931,"y":-1.4199},{"l":128,"x":-0.2,"y":-1.4},
{"l":129,"x":-0.14,"y":-1.7},{"l":129,"x":-0.14,"y":-1.52},{"l":129,"x":-0.1434,"y":-1.4891},{"l":129,"x":-0.1691,"y":-1.4537},{"l":129,"x":-0.1923,"y":-1.4194},{"l":129,"x":-0.2,"y":-1.4},
{"l":130,"x":-0.1333,"y":-1.7},{"l":130,"x":-0.1333,"y":-1.517},{"l":130,"x":-0.1371,"y":-1.4869},{"l":130,"x":-0.1657,"y":-1.4524},{"l":130,"x":-0.1914,"y":-1.4189},{"l":130,"x":-0.2,"y":-1.4},
{"l":131,"x":-0.1267,"y":-1.7},{"l":131,"x":-0.1267,"y":-1.514},{"l":131,"x":-0.1309,"y":-1.4847},{"l":131,"x":-0.1623,"y":-1.451},{"l":131,"x":-0.1906,"y":-1.4185},{"l":131,"x":-0.2,"y":-1.4},
{"l":132,"x":-0.12,"y":-1.7},{"l":132,"x":-0.12,"y":-1.511},{"l":132,"x":-0.1246,"y":-1.4825},{"l":132,"x":-0.1589,"y":-1.4497},{"l":132,"x":-0.1897,"y":-1.418},{"l":132,"x":-0.2,"y":-1.4},
{"l":133,"x":-0.1133,"y":-1.7},{"l":133,"x":-0.1133,"y":-1.508},{"l":133,"x":-0.1183,"y":-1.4802},{"l":133,"x":-0.1554,"y":-1.4483},{"l":133,"x":-0.1889,"y":-1.4175},{"l":133,"x":-0.2,"y":-1.4},
{"l":134,"x":-0.1067,"y":-1.7},{"l":134,"x":-0.1067,"y":-1.505},{"l":134,"x":-0.112,"y":-1.478},{"l":134,"x":-0.152,"y":-1.447},{"l":134,"x":-0.188,"y":-1.417},{"l":134,"x":-0.2,"y":-1.4},
{"l":201,"x":-0.0067,"y":-1.7},{"l":201,"x":-0.0067,"y":-1.544},{"l":201,"x":-0.0063,"y":-1.507},{"l":201,"x":-0.0034,"y":-1.4645},{"l":201,"x":-0.0009,"y":-1.4233},{"l":201,"x":0,"y":-1.4},
{"l":202,"x":-0.0133,"y":-1.7},{"l":202,"x":-0.0133,"y":-1.541},{"l":202,"x":-0.0126,"y":-1.5047},{"l":202,"x":-0.0069,"y":-1.4631},{"l":202,"x":-0.0017,"y":-1.4228},{"l":202,"x":0,"y":-1.4},
{"l":203,"x":-0.02,"y":-1.7},{"l":203,"x":-0.02,"y":-1.538},{"l":203,"x":-0.0189,"y":-1.5025},{"l":203,"x":-0.0103,"y":-1.4618},{"l":203,"x":-0.0026,"y":-1.4223},{"l":203,"x":0,"y":-1.4},
{"l":204,"x":-0.0267,"y":-1.7},{"l":204,"x":-0.0267,"y":-1.535},{"l":204,"x":-0.0251,"y":-1.5003},{"l":204,"x":-0.0137,"y":-1.4604},{"l":204,"x":-0.0034,"y":-1.4219},{"l":204,"x":0,"y":-1.4},
{"l":205,"x":-0.0333,"y":-1.7},{"l":205,"x":-0.0333,"y":-1.532},{"l":205,"x":-0.0314,"y":-1.4981},{"l":205,"x":-0.0171,"y":-1.4591},{"l":205,"x":-0.0043,"y":-1.4214},{"l":205,"x":0,"y":-1.4},
{"l":206,"x":-0.04,"y":-1.7},{"l":206,"x":-0.04,"y":-1.529},{"l":206,"x":-0.0377,"y":-1.4958},{"l":206,"x":-0.0206,"y":-1.4577},{"l":206,"x":-0.0051,"y":-1.4209},{"l":206,"x":0,"y":-1.4},
{"l":207,"x":-0.0467,"y":-1.7},{"l":207,"x":-0.0467,"y":-1.526},{"l":207,"x":-0.044,"y":-1.4936},{"l":207,"x":-0.024,"y":-1.4564},{"l":207,"x":-0.006,"y":-1.4204},{"l":207,"x":0,"y":-1.4},
{"l":208,"x":-0.0533,"y":-1.7},{"l":208,"x":-0.0533,"y":-1.523},{"l":208,"x":-0.0503,"y":-1.4914},{"l":208,"x":-0.0274,"y":-1.4551},{"l":208,"x":-0.0069,"y":-1.4199},{"l":208,"x":0,"y":-1.4},
{"l":209,"x":-0.06,"y":-1.7},{"l":209,"x":-0.06,"y":-1.52},{"l":209,"x":-0.0566,"y":-1.4891},{"l":209,"x":-0.0309,"y":-1.4537},{"l":209,"x":-0.0077,"y":-1.4194},{"l":209,"x":0,"y":-1.4},
{"l":210,"x":-0.0667,"y":-1.7},{"l":210,"x":-0.0667,"y":-1.517},{"l":210,"x":-0.0629,"y":-1.4869},{"l":210,"x":-0.0343,"y":-1.4524},{"l":210,"x":-0.0086,"y":-1.4189},{"l":210,"x":0,"y":-1.4},
{"l":211,"x":-0.0733,"y":-1.7},{"l":211,"x":-0.0733,"y":-1.514},{"l":211,"x":-0.0691,"y":-1.4847},{"l":211,"x":-0.0377,"y":-1.451},{"l":211,"x":-0.0094,"y":-1.4185},{"l":211,"x":0,"y":-1.4},
{"l":212,"x":-0.08,"y":-1.7},{"l":212,"x":-0.08,"y":-1.511},{"l":212,"x":-0.0754,"y":-1.4825},{"l":212,"x":-0.0411,"y":-1.4497},{"l":212,"x":-0.0103,"y":-1.418},{"l":212,"x":0,"y":-1.4},
{"l":213,"x":-0.0867,"y":-1.7},{"l":213,"x":-0.0867,"y":-1.508},{"l":213,"x":-0.0817,"y":-1.4802},{"l":213,"x":-0.0446,"y":-1.4483},{"l":213,"x":-0.0111,"y":-1.4175},{"l":213,"x":0,"y":-1.4},
{"l":214,"x":-0.0933,"y":-1.7},{"l":214,"x":-0.0933,"y":-1.505},{"l":214,"x":-0.088,"y":-1.478},{"l":214,"x":-0.048,"y":-1.447},{"l":214,"x":-0.012,"y":-1.417},{"l":214,"x":0,"y":-1.4},
{"l":221,"x":0.0067,"y":-1.7},{"l":221,"x":0.0067,"y":-1.544},{"l":221,"x":0.0063,"y":-1.507},{"l":221,"x":0.0034,"y":-1.4645},{"l":221,"x":0.0009,"y":-1.4233},{"l":221,"x":0,"y":-1.4},
{"l":222,"x":0.0133,"y":-1.7},{"l":222,"x":0.0133,"y":-1.541},{"l":222,"x":0.0126,"y":-1.5047},{"l":222,"x":0.0069,"y":-1.4631},{"l":222,"x":0.0017,"y":-1.4228},{"l":222,"x":0,"y":-1.4},
{"l":223,"x":0.02,"y":-1.7},{"l":223,"x":0.02,"y":-1.538},{"l":223,"x":0.0189,"y":-1.5025},{"l":223,"x":0.0103,"y":-1.4618},{"l":223,"x":0.0026,"y":-1.4223},{"l":223,"x":0,"y":-1.4},
{"l":224,"x":0.0267,"y":-1.7},{"l":224,"x":0.0267,"y":-1.535},{"l":224,"x":0.0251,"y":-1.5003},{"l":224,"x":0.0137,"y":-1.4604},{"l":224,"x":0.0034,"y":-1.4219},{"l":224,"x":0,"y":-1.4},
{"l":225,"x":0.0333,"y":-1.7},{"l":225,"x":0.0333,"y":-1.532},{"l":225,"x":0.0314,"y":-1.4981},{"l":225,"x":0.0171,"y":-1.4591},{"l":225,"x":0.0043,"y":-1.4214},{"l":225,"x":0,"y":-1.4},
{"l":226,"x":0.04,"y":-1.7},{"l":226,"x":0.04,"y":-1.529},{"l":226,"x":0.0377,"y":-1.4958},{"l":226,"x":0.0206,"y":-1.4577},{"l":226,"x":0.0051,"y":-1.4209},{"l":226,"x":0,"y":-1.4},
{"l":227,"x":0.0467,"y":-1.7},{"l":227,"x":0.0467,"y":-1.526},{"l":227,"x":0.044,"y":-1.4936},{"l":227,"x":0.024,"y":-1.4564},{"l":227,"x":0.006,"y":-1.4204},{"l":227,"x":0,"y":-1.4},
{"l":228,"x":0.0533,"y":-1.7},{"l":228,"x":0.0533,"y":-1.523},{"l":228,"x":0.0503,"y":-1.4914},{"l":228,"x":0.0274,"y":-1.4551},{"l":228,"x":0.0069,"y":-1.4199},{"l":228,"x":0,"y":-1.4},
{"l":229,"x":0.06,"y":-1.7},{"l":229,"x":0.06,"y":-1.52},{"l":229,"x":0.0566,"y":-1.4891},{"l":229,"x":0.0309,"y":-1.4537},{"l":229,"x":0.0077,"y":-1.4194},{"l":229,"x":0,"y":-1.4},
{"l":230,"x":0.0667,"y":-1.7},{"l":230,"x":0.0667,"y":-1.517},{"l":230,"x":0.0629,"y":-1.4869},{"l":230,"x":0.0343,"y":-1.4524},{"l":230,"x":0.0086,"y":-1.4189},{"l":230,"x":0,"y":-1.4},
{"l":231,"x":0.0733,"y":-1.7},{"l":231,"x":0.0733,"y":-1.514},{"l":231,"x":0.0691,"y":-1.4847},{"l":231,"x":0.0377,"y":-1.451},{"l":231,"x":0.0094,"y":-1.4185},{"l":231,"x":0,"y":-1.4},
{"l":232,"x":0.08,"y":-1.7},{"l":232,"x":0.08,"y":-1.511},{"l":232,"x":0.0754,"y":-1.4825},{"l":232,"x":0.0411,"y":-1.4497},{"l":232,"x":0.0103,"y":-1.418},{"l":232,"x":0,"y":-1.4},
{"l":233,"x":0.0867,"y":-1.7},{"l":233,"x":0.0867,"y":-1.508},{"l":233,"x":0.0817,"y":-1.4802},{"l":233,"x":0.0446,"y":-1.4483},{"l":233,"x":0.0111,"y":-1.4175},{"l":233,"x":0,"y":-1.4},
{"l":234,"x":0.0933,"y":-1.7},{"l":234,"x":0.0933,"y":-1.505},{"l":234,"x":0.088,"y":-1.478},{"l":234,"x":0.048,"y":-1.447},{"l":234,"x":0.012,"y":-1.417},{"l":234,"x":0,"y":-1.4},
{"l":301,"x":0.1933,"y":-1.7},{"l":301,"x":0.1933,"y":-1.544},{"l":301,"x":0.1937,"y":-1.507},{"l":301,"x":0.1966,"y":-1.4645},{"l":301,"x":0.1991,"y":-1.4233},{"l":301,"x":0.2,"y":-1.4},
{"l":302,"x":0.1867,"y":-1.7},{"l":302,"x":0.1867,"y":-1.541},{"l":302,"x":0.1874,"y":-1.5047},{"l":302,"x":0.1931,"y":-1.4631},{"l":302,"x":0.1983,"y":-1.4228},{"l":302,"x":0.2,"y":-1.4},
{"l":303,"x":0.18,"y":-1.7},{"l":303,"x":0.18,"y":-1.538},{"l":303,"x":0.1811,"y":-1.5025},{"l":303,"x":0.1897,"y":-1.4618},{"l":303,"x":0.1974,"y":-1.4223},{"l":303,"x":0.2,"y":-1.4},
{"l":304,"x":0.1733,"y":-1.7},{"l":304,"x":0.1733,"y":-1.535},{"l":304,"x":0.1749,"y":-1.5003},{"l":304,"x":0.1863,"y":-1.4604},{"l":304,"x":0.1966,"y":-1.4219},{"l":304,"x":0.2,"y":-1.4},
{"l":305,"x":0.1667,"y":-1.7},{"l":305,"x":0.1667,"y":-1.532},{"l":305,"x":0.1686,"y":-1.4981},{"l":305,"x":0.1829,"y":-1.4591},{"l":305,"x":0.1957,"y":-1.4214},{"l":305,"x":0.2,"y":-1.4},
{"l":306,"x":0.16,"y":-1.7},{"l":306,"x":0.16,"y":-1.529},{"l":306,"x":0.1623,"y":-1.4958},{"l":306,"x":0.1794,"y":-1.4577},{"l":306,"x":0.1949,"y":-1.4209},{"l":306,"x":0.2,"y":-1.4},
{"l":307,"x":0.1533,"y":-1.7},{"l":307,"x":0.1533,"y":-1.526},{"l":307,"x":0.156,"y":-1.4936},{"l":307,"x":0.176,"y":-1.4564},{"l":307,"x":0.194,"y":-1.4204},{"l":307,"x":0.2,"y":-1.4},
{"l":308,"x":0.1467,"y":-1.7},{"l":308,"x":0.1467,"y":-1.523},{"l":308,"x":0.1497,"y":-1.4914},{"l":308,"x":0.1726,"y":-1.4551},{"l":308,"x":0.1931,"y":-1.4199},{"l":308,"x":0.2,"y":-1.4},
{"l":309,"x":0.14,"y":-1.7},{"l":309,"x":0.14,"y":-1.52},{"l":309,"x":0.1434,"y":-1.4891},{"l":309,"x":0.1691,"y":-1.4537},{"l":309,"x":0.1923,"y":-1.4194},{"l":309,"x":0.2,"y":-1.4},
{"l":310,"x":0.1333,"y":-1.7},{"l":310,"x":0.1333,"y":-1.517},{"l":310,"x":0.1371,"y":-1.4869},{"l":310,"x":0.1657,"y":-1.4524},{"l":310,"x":0.1914,"y":-1.4189},{"l":310,"x":0.2,"y":-1.4},
{"l":311,"x":0.1267,"y":-1.7},{"l":311,"x":0.1267,"y":-1.514},{"l":311,"x":0.1309,"y":-1.4847},{"l":311,"x":0.1623,"y":-1.451},{"l":311,"x":0.1906,"y":-1.4185},{"l":311,"x":0.2,"y":-1.4},
{"l":312,"x":0.12,"y":-1.7},{"l":312,"x":0.12,"y":-1.511},{"l":312,"x":0.1246,"y":-1.4825},{"l":312,"x":0.1589,"y":-1.4497},{"l":312,"x":0.1897,"y":-1.418},{"l":312,"x":0.2,"y":-1.4},
{"l":313,"x":0.1133,"y":-1.7},{"l":313,"x":0.1133,"y":-1.508},{"l":313,"x":0.1183,"y":-1.4802},{"l":313,"x":0.1554,"y":-1.4483},{"l":313,"x":0.1889,"y":-1.4175},{"l":313,"x":0.2,"y":-1.4},
{"l":314,"x":0.1067,"y":-1.7},{"l":314,"x":0.1067,"y":-1.505},{"l":314,"x":0.112,"y":-1.478},{"l":314,"x":0.152,"y":-1.447},{"l":314,"x":0.188,"y":-1.417},{"l":314,"x":0.2,"y":-1.4},
{"l":321,"x":0.2067,"y":-1.7},{"l":321,"x":0.2067,"y":-1.544},{"l":321,"x":0.2063,"y":-1.507},{"l":321,"x":0.2034,"y":-1.4645},{"l":321,"x":0.2009,"y":-1.4233},{"l":321,"x":0.2,"y":-1.4},
{"l":322,"x":0.2133,"y":-1.7},{"l":322,"x":0.2133,"y":-1.541},{"l":322,"x":0.2126,"y":-1.5047},{"l":322,"x":0.2069,"y":-1.4631},{"l":322,"x":0.2017,"y":-1.4228},{"l":322,"x":0.2,"y":-1.4},
{"l":323,"x":0.22,"y":-1.7},{"l":323,"x":0.22,"y":-1.538},{"l":323,"x":0.2189,"y":-1.5025},{"l":323,"x":0.2103,"y":-1.4618},{"l":323,"x":0.2026,"y":-1.4223},{"l":323,"x":0.2,"y":-1.4},
{"l":324,"x":0.2267,"y":-1.7},{"l":324,"x":0.2267,"y":-1.535},{"l":324,"x":0.2251,"y":-1.5003},{"l":324,"x":0.2137,"y":-1.4604},{"l":324,"x":0.2034,"y":-1.4219},{"l":324,"x":0.2,"y":-1.4},
{"l":325,"x":0.2333,"y":-1.7},{"l":325,"x":0.2333,"y":-1.532},{"l":325,"x":0.2314,"y":-1.4981},{"l":325,"x":0.2171,"y":-1.4591},{"l":325,"x":0.2043,"y":-1.4214},{"l":325,"x":0.2,"y":-1.4},
{"l":326,"x":0.24,"y":-1.7},{"l":326,"x":0.24,"y":-1.529},{"l":326,"x":0.2377,"y":-1.4958},{"l":326,"x":0.2206,"y":-1.4577},{"l":326,"x":0.2051,"y":-1.4209},{"l":326,"x":0.2,"y":-1.4},
{"l":327,"x":0.2467,"y":-1.7},{"l":327,"x":0.2467,"y":-1.526},{"l":327,"x":0.244,"y":-1.4936},{"l":327,"x":0.224,"y":-1.4564},{"l":327,"x":0.206,"y":-1.4204},{"l":327,"x":0.2,"y":-1.4},
{"l":328,"x":0.2533,"y":-1.7},{"l":328,"x":0.2533,"y":-1.523},{"l":328,"x":0.2503,"y":-1.4914},{"l":328,"x":0.2274,"y":-1.4551},{"l":328,"x":0.2069,"y":-1.4199},{"l":328,"x":0.2,"y":-1.4},
{"l":329,"x":0.26,"y":-1.7},{"l":329,"x":0.26,"y":-1.52},{"l":329,"x":0.2566,"y":-1.4891},{"l":329,"x":0.2309,"y":-1.4537},{"l":329,"x":0.2077,"y":-1.4194},{"l":329,"x":0.2,"y":-1.4},
{"l":330,"x":0.2667,"y":-1.7},{"l":330,"x":0.2667,"y":-1.517},{"l":330,"x":0.2629,"y":-1.4869},{"l":330,"x":0.2343,"y":-1.4524},{"l":330,"x":0.2086,"y":-1.4189},{"l":330,"x":0.2,"y":-1.4},
{"l":331,"x":0.2733,"y":-1.7},{"l":331,"x":0.2733,"y":-1.514},{"l":331,"x":0.2691,"y":-1.4847},{"l":331,"x":0.2377,"y":-1.451},{"l":331,"x":0.2094,"y":-1.4185},{"l":331,"x":0.2,"y":-1.4},
{"l":332,"x":0.28,"y":-1.7},{"l":332,"x":0.28,"y":-1.511},{"l":332,"x":0.2754,"y":-1.4825},{"l":332,"x":0.2411,"y":-1.4497},{"l":332,"x":0.2103,"y":-1.418},{"l":332,"x":0.2,"y":-1.4},
{"l":333,"x":0.2867,"y":-1.7},{"l":333,"x":0.2867,"y":-1.508},{"l":333,"x":0.2817,"y":-1.4802},{"l":333,"x":0.2446,"y":-1.4483},{"l":333,"x":0.2111,"y":-1.4175},{"l":333,"x":0.2,"y":-1.4},
{"l":334,"x":0.2933,"y":-1.7},{"l":334,"x":0.2933,"y":-1.505},{"l":334,"x":0.288,"y":-1.478},{"l":334,"x":0.248,"y":-1.447},{"l":334,"x":0.212,"y":-1.417},{"l":334,"x":0.2,"y":-1.4}
]
},
"hconcat":[
 {"width":434,"height":434,"title":"Gating grid closed",
  "layer":[
   {"data":{"name":"a"},"mark":{"type":"line","clip":true,"interpolate":"catmull-rom","color":"#0000ff","strokeWidth":1.3},
    "encoding":{
     "x":{"field":"x","type":"quantitative","scale":{"domain":[-0.31,0.31],"nice":false,"zero":false},"axis":{"orient":"bottom","values":[-0.3,-0.25,-0.2,-0.15,-0.1,-0.05,0,0.05,0.1,0.15,0.2,0.25,0.3],"labelExpr":"''+datum.value","labelAngle":90,"labelPadding":13,"title":"x-Axis[cm]","titleX":223,"titleY":74,"titleAlign":"center","titleBaseline":"middle"}},
     "y":{"field":"y","type":"quantitative","scale":{"domain":[-1.7,-0.3],"nice":false,"zero":false},"axis":{"orient":"left","values":[-1.6,-1.5,-1.4,-1.3,-1.2,-1.1,-1,-0.9,-0.8,-0.7,-0.6,-0.5,-0.4],"labelExpr":"''+datum.value","labelPadding":10,"title":"y-Axis [cm]","titleX":-61,"titleY":217,"titleAngle":270,"titleAlign":"center","titleBaseline":"middle"}},
     "detail":{"field":"l","type":"nominal"},
     "order":{"field":"y","type":"quantitative"}}},
   {"data":{"name":"w"},"mark":{"type":"circle","size":55,"color":"#bb00ff","opacity":1},
    "encoding":{
     "x":{"field":"x","type":"quantitative","axis":{"orient":"top","values":[-0.3,-0.25,-0.2,-0.15,-0.1,-0.05,0,0.05,0.1,0.15,0.2,0.25,0.3],"labels":false,"title":null}},
     "y":{"field":"y","type":"quantitative","axis":{"orient":"right","values":[-1.6,-1.5,-1.4,-1.3,-1.2,-1.1,-1,-0.9,-0.8,-0.7,-0.6,-0.5,-0.4],"labels":false,"title":null}}}}
  ],
  "resolve":{"axis":{"x":"independent","y":"independent"}}
 },
 {"width":434,"height":434,"title":"Gating grid closed",
  "layer":[
   {"data":{"name":"b"},"mark":{"type":"line","clip":true,"interpolate":"catmull-rom","color":"#0000ff","strokeWidth":1.3},
    "encoding":{
     "x":{"field":"x","type":"quantitative","scale":{"domain":[-0.31,0.31],"nice":false,"zero":false},"axis":{"orient":"bottom","values":[-0.3,-0.25,-0.2,-0.15,-0.1,-0.05,0,0.05,0.1,0.15,0.2,0.25,0.3],"labelExpr":"''+datum.value","labelAngle":90,"labelPadding":13,"title":"x-Axis[cm]","titleX":223,"titleY":74,"titleAlign":"center","titleBaseline":"middle"}},
     "y":{"field":"y","type":"quantitative","scale":{"domain":[-1.7,-0.3],"nice":false,"zero":false},"axis":{"orient":"left","values":[-1.6,-1.5,-1.4,-1.3,-1.2,-1.1,-1,-0.9,-0.8,-0.7,-0.6,-0.5,-0.4],"labelExpr":"''+datum.value","labelPadding":10,"title":"y-Axis [cm]","titleX":-61,"titleY":217,"titleAngle":270,"titleAlign":"center","titleBaseline":"middle"}},
     "detail":{"field":"l","type":"nominal"},
     "order":{"field":"y","type":"quantitative"}}},
   {"data":{"name":"w"},"mark":{"type":"circle","size":55,"color":"#bb00ff","opacity":1},
    "encoding":{
     "x":{"field":"x","type":"quantitative","axis":{"orient":"top","values":[-0.3,-0.25,-0.2,-0.15,-0.1,-0.05,0,0.05,0.1,0.15,0.2,0.25,0.3],"labels":false,"title":null}},
     "y":{"field":"y","type":"quantitative","axis":{"orient":"right","values":[-1.6,-1.5,-1.4,-1.3,-1.2,-1.1,-1,-0.9,-0.8,-0.7,-0.6,-0.5,-0.4],"labels":false,"title":null}}}}
  ],
  "resolve":{"axis":{"x":"independent","y":"independent"}}
 }
]
}
